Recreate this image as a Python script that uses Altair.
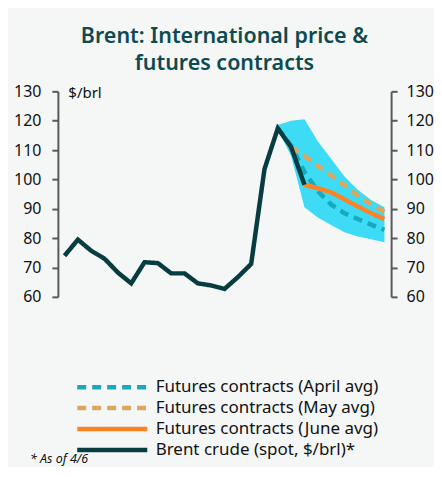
import altair as alt
import pandas as pd

months = ["Dec-24", "Jan-25", "Feb-25", "Mar-25", "Apr-25", "May-25", "Jun-25",
          "Jul-25", "Aug-25", "Sep-25", "Oct-25", "Nov-25", "Dec-25", "Jan-26",
          "Feb-26", "Mar-26", "Apr-26", "May-26", "Jun-26", "Jul-26", "Aug-26",
          "Sep-26", "Oct-26", "Nov-26", "Dec-26"]
x_tick_labels = ["Dec-24", "Mar-25", "Jun-25", "Sep-25", "Dec-25", "Mar-26",
                 "Jun-26", "Sep-26", "Dec-26"]
y_ticks = [60, 70, 80, 90, 100, 110, 120, 130]

# Brent spot, Dec-24 .. Jun-26
brent = [74.0, 79.5, 75.7, 73.0, 68.3, 64.6, 71.8, 71.5, 68.0, 68.0, 64.6, 63.9,
         62.7, 66.7, 71.2, 103.5, 117.4, 111.0, 98.2]
# Futures curves
april_avg = [117.4, 111.5, 102.5, 96.0, 91.5, 88.5, 86.5, 84.6, 82.8]   # Apr-26 .. Dec-26
may_avg = [111.0, 108.0, 104.6, 101.4, 98.0, 94.5, 91.5, 89.0]          # May-26 .. Dec-26
june_avg = [98.2, 97.0, 95.6, 93.2, 90.8, 88.5, 86.5]                   # Jun-26 .. Dec-26
# Range band, Apr-26 .. Dec-26
band_low = [117.0, 108.0, 90.5, 87.0, 84.5, 82.0, 80.6, 79.6, 78.6]
band_high = [118.5, 120.0, 120.5, 113.0, 107.0, 101.0, 96.5, 93.0, 90.5]

series_names = ["Futures contracts (April avg)", "Futures contracts (May avg)",
                "Futures contracts (June avg)", "Brent crude (spot, $/brl)*"]
series_colors = ["#17A9BC", "#DDA65E", "#FF8227", "#073C40"]
series_dash = [[9, 6], [9, 6], [1, 0], [1, 0]]
series_width = [4.5, 4.5, 4, 6]
footnote = "* As of 4/6"

def tail(vals):
    return months[len(months) - len(vals):]

rows = []
for name, vals in [(series_names[0], april_avg), (series_names[1], may_avg),
                   (series_names[2], june_avg)]:
    for m, v in zip(tail(vals), vals):
        rows.append({"month": m, "value": v, "series": name})
fut_df = pd.DataFrame(rows)
brent_df = pd.DataFrame({"month": months[:len(brent)], "value": brent,
                         "series": series_names[3]})
band_df = pd.DataFrame({"month": tail(band_low), "low": band_low, "high": band_high})

FONT = "Noto Sans"

x_scale = alt.Scale(type="point", domain=months, padding=0.5)
x_enc = alt.X("month:O", sort=months, scale=x_scale,
              axis=alt.Axis(values=x_tick_labels, labelAngle=-90, ticks=False,
                            labelPadding=12, title=None, labelFontSize=18))
y_scale = alt.Scale(domain=[60, 130], nice=False, zero=False)
left_axis = alt.Axis(values=y_ticks, title="$/brl", titleAngle=0, titleX=10,
                     titleY=-6, titleAlign="left", titleBaseline="top",
                     titleFontSize=15, titleFontWeight="normal",
                     titleColor="#111111", titleFont=FONT, labelPadding=11)

def y_left(field):
    return alt.Y(field, scale=y_scale, axis=left_axis)

legend = alt.Legend(title=None, orient="none", legendX=43, legendY=285,
                    direction="vertical", symbolType="M-3.9,0H3.9", symbolSize=324,
                    labelFontSize=17, labelOffset=32, rowPadding=0, padding=0,
                    labelLimit=400, labelColor="#111111", labelFont=FONT)
color = alt.Color("series:N", scale=alt.Scale(domain=series_names, range=series_colors),
                  legend=legend)
dash = alt.StrokeDash("series:N", scale=alt.Scale(domain=series_names, range=series_dash),
                      legend=legend)
sw = alt.StrokeWidth("series:N", scale=alt.Scale(domain=series_names, range=series_width),
                     legend=legend)

band = alt.Chart(band_df).mark_area(color="#3DDBF5", opacity=1).encode(
    x=x_enc, y=y_left("low:Q"), y2="high:Q")

fut = alt.Chart(fut_df).mark_line(strokeCap="butt").encode(
    x=x_enc, y=y_left("value:Q"), color=color, strokeDash=dash, strokeWidth=sw)

brent_line = alt.Chart(brent_df).mark_line(strokeJoin="miter").encode(
    x=x_enc, y=y_left("value:Q"), color=color, strokeDash=dash, strokeWidth=sw)

note = alt.Chart(pd.DataFrame({"t": [footnote]})).mark_text(
    font=FONT, fontSize=12.5, fontStyle="italic", align="left", baseline="middle",
    color="#111111").encode(text="t:N", x=alt.value(-28), y=alt.value(369))

inner = alt.layer(band, fut, brent_line, note)

right = alt.Chart(brent_df).mark_line(opacity=0).encode(
    x=alt.X("month:O", sort=months, scale=x_scale, axis=None),
    y=alt.Y("value:Q", scale=y_scale,
            axis=alt.Axis(orient="right", values=y_ticks, title=None, labelPadding=9)),
)

chart = alt.layer(inner, right).resolve_scale(y="independent").properties(
    width=334, height=206,
    background="#F5F7F7",
    padding={"left": 5, "top": 17, "right": 0, "bottom": 0},
    title=alt.TitleParams(text=["Brent: International price &", "futures contracts"],
                          fontSize=21.5, fontWeight=600, color="#0E4A50", font=FONT,
                          anchor="middle", offset=9, lineHeight=27),
).configure_view(stroke=None).configure_axis(
    grid=False, domainColor="#595959", domainWidth=2, tickColor="#595959",
    tickWidth=2, tickSize=6, labelFontSize=16, labelColor="#111111", labelFont=FONT,
)

chart.save("out.html", embed_options={"renderer": "svg", "actions": False})
